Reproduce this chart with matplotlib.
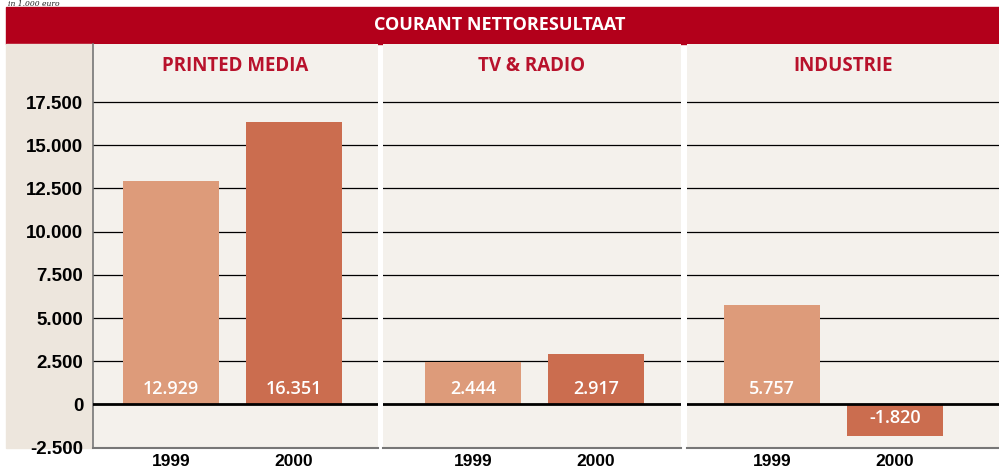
import matplotlib
matplotlib.use("Agg")
import matplotlib.pyplot as plt
from matplotlib.patches import Rectangle

# data (in 1.000 euro)
segments = ["PRINTED MEDIA", "TV & RADIO", "INDUSTRIE"]
years = ["1999", "2000"]
values_1999 = [12929, 2444, 5757]
values_2000 = [16351, 2917, -1820]
labels_1999 = ["12.929", "2.444", "5.757"]
labels_2000 = ["16.351", "2.917", "-1.820"]
yticks = [-2500, 0, 2500, 5000, 7500, 10000, 12500, 15000, 17500]
ytick_labels = ["-2.500", "0", "2.500", "5.000", "7.500", "10.000", "12.500", "15.000", "17.500"]

RED = "#b3001b"
TITLE_RED = "#b8122c"
C1999 = "#dd9b7a"
C2000 = "#cb6d4f"
PLOT_BG = "#f4f1ec"
GUTTER_BG = "#ede6dd"

W, H = 999, 473
fig = plt.figure(figsize=(W / 100, H / 100), dpi=100)
fig.patch.set_facecolor("white")


def fx(px):
    return px / W


def fy(py):
    return 1 - py / H


# banner + left gutter
fig.patches.append(Rectangle((fx(6), fy(44)), fx(999) - fx(6), fy(7) - fy(44),
                             transform=fig.transFigure, color=RED, zorder=0))
fig.patches.append(Rectangle((fx(6), fy(448)), fx(93) - fx(6), fy(44) - fy(448),
                             transform=fig.transFigure, color=GUTTER_BG, zorder=0))
fig.text(fx(500), fy(25), "COURANT NETTORESULTAAT", color="white", ha="center",
         va="center", fontsize=13, fontweight="bold", family="Open Sans")
fig.text(fx(8), fy(0), "in 1.000 euro", color="#222222", ha="left", va="top",
         fontsize=5.5, style="italic", family="DejaVu Serif")

# panel extents in pixels and left offset of first bar centre
panels = [(93, 378, 78), (383, 681, 90), (687, 999, 85)]
step = 123.0
bar_w = 96 / step
ymin, ymax = -2520, 20860

for i, (x0, x1, off) in enumerate(panels):
    ax = fig.add_axes([fx(x0), fy(448), fx(x1) - fx(x0), fy(44) - fy(448)])
    ax.set_zorder(2)
    ax.set_facecolor(PLOT_BG)
    left = -off / step
    ax.set_xlim(left, left + (x1 - x0) / step)
    ax.set_ylim(ymin, ymax)
    for t in yticks[2:]:
        ax.axhline(t, color="black", lw=0.9, zorder=1)
    ax.axhline(0, color="black", lw=2, zorder=3)
    ax.bar([0, 1], [values_1999[i], values_2000[i]], width=bar_w,
           color=[C1999, C2000], zorder=2)
    for xpos, v, lab in [(0, values_1999[i], labels_1999[i]),
                         (1, values_2000[i], labels_2000[i])]:
        ypos = 400 if v >= 0 else -800
        ax.text(xpos, ypos, lab, color="white", ha="center", va="bottom" if v >= 0 else "center",
                fontsize=13, fontweight="semibold", family="Open Sans", zorder=4)
    ax.text(0.5, 1 - 22 / 404, segments[i], transform=ax.transAxes, color=TITLE_RED,
            ha="center", va="center", fontsize=13.5, fontweight="bold", family="Open Sans")
    ax.set_xticks([0, 1])
    ax.set_xticklabels(years, fontsize=12.5, fontweight="bold", family="Liberation Sans")
    ax.tick_params(axis="x", length=0, pad=4)
    for s in ["top", "right"]:
        ax.spines[s].set_visible(False)
    ax.spines["bottom"].set_color("#777777")
    ax.spines["bottom"].set_linewidth(1.5)
    if i == 0:
        ax.spines["left"].set_color("#777777")
        ax.spines["left"].set_linewidth(1.2)
        ax.set_yticks(yticks)
        ax.set_yticklabels(ytick_labels, fontsize=13.5, fontweight="bold",
                           family="Liberation Sans")
        ax.tick_params(axis="y", length=0, pad=7)
    else:
        ax.spines["left"].set_visible(False)
        ax.set_yticks([])

fig.savefig("out.png", dpi=100)
